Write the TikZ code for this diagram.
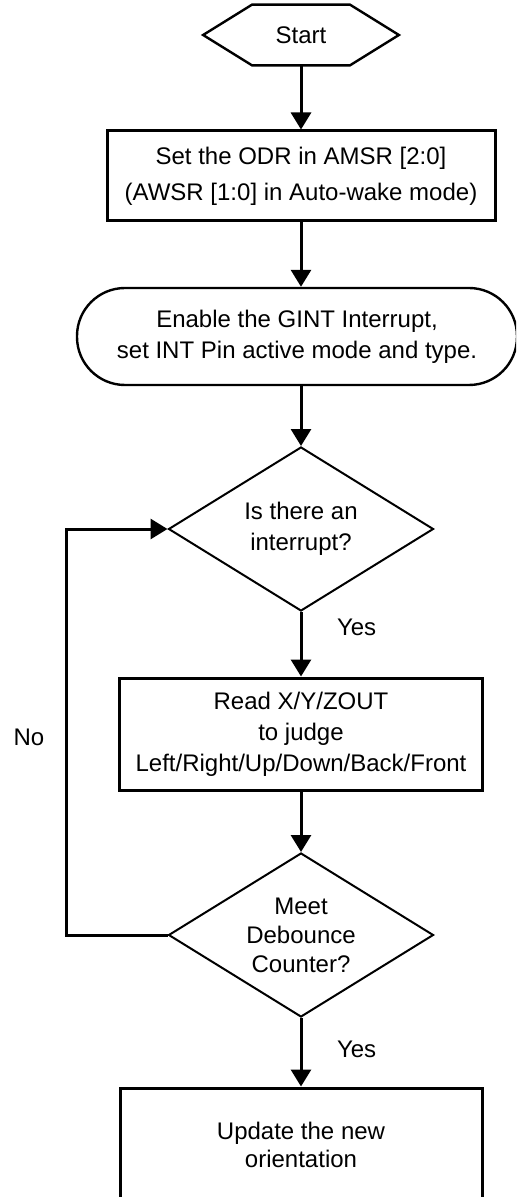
\documentclass[tikz,border=0pt]{standalone}
\usepackage{fontspec}
\setmainfont{Liberation Sans}
\usetikzlibrary{arrows.meta,shapes.geometric,calc}

\begin{document}
\begin{tikzpicture}[x=0.5pt,y=-0.5pt,
  txt/.style={align=center,font=\fontsize{12}{15.5}\selectfont},
  proc/.style={txt,draw,line width=1.5pt,inner sep=0pt},
  decide/.style={txt,draw,diamond,aspect=1.6,line width=1pt,inner sep=0pt,minimum width=132.5pt,minimum height=82pt},
  flow/.style={-{Triangle[width=10pt,length=8.5pt]},line width=1.5pt}]
\useasboundingbox (0,0) rectangle (516,1197);
\clip (0,0) rectangle (516,1197);
%start
\node[txt,minimum width=97.5pt,minimum height=30pt] (start) at (301,35) {Start};
\draw[line width=1.2pt] (start.west) -- ($(start.north west)+(49,0)$) -- ($(start.north east)+(-49,0)$) -- (start.east)
  -- ($(start.south east)+(-49,0)$) -- ($(start.south west)+(49,0)$) -- cycle;
%steps
\node[proc,minimum width=194pt,minimum height=45pt,font=\fontsize{12}{18}\selectfont] (odr) at (301,176) {Set the ODR in AMSR [2:0]\\(AWSR [1:0] in Auto-wake mode)};
\node[txt,draw,line width=1.2pt,rounded corners=24pt,minimum width=220pt,minimum height=48.5pt] (gint) at (297,336.5) {Enable the GINT Interrupt,\\set INT Pin active mode and type.};
\node[decide] (isint) at (301,529) {Is there an\\interrupt?};
\node[proc,minimum width=181.5pt,minimum height=56pt] (read) at (301,734) {Read X/Y/ZOUT\\to judge\\Left/Right/Up/Down/Back/Front};
\node[decide,font=\fontsize{12}{14.5}\selectfont] (meet) at (301,935) {Meet\\Debounce\\Counter?};
\node[proc,minimum width=181pt,minimum height=57pt,font=\fontsize{12}{14}\selectfont] (update) at (301,1145) {Update the new\\orientation};
%labels
\node[txt,anchor=west] (yes1) at (330,627) {Yes};
\node[txt,anchor=west] (yes2) at (330,1049) {Yes};
\node[txt] (no) at (29,737) {No};
%arrows
\draw[flow] (start.south) -- (odr.north);
\draw[flow] (odr.south) -- (gint.north -| odr.south);
\draw[flow] (gint.south -| isint.north) -- (isint.north);
\draw[flow] (isint.south) -- (read.north);
\draw[flow] (read.south) -- (meet.north);
\draw[flow] (meet.south) -- (update.north);
\coordinate (back) at (66,935);
\draw[flow] (meet.west) -- (back) |- (isint.west);
\end{tikzpicture}
\end{document}
